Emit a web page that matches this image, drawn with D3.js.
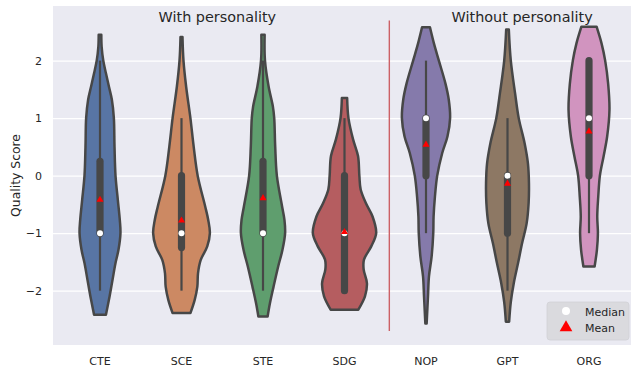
<!DOCTYPE html>
<html><head><meta charset="utf-8">
<script src="https://cdn.jsdelivr.net/npm/d3@7"></script>
<style>
body{margin:0;background:#fff}
svg{display:block}
text{font-family:"DejaVu Sans",sans-serif;fill:#262626}
</style>
</head><body><svg id="c" width="631" height="371"></svg>
<script>
// ---- data ----
const categories = ["CTE","SCE","STE","SDG","NOP","GPT","ORG"];
const colors = ["#5875a4","#cc8963","#5f9e6e","#b55d60","#857aab","#8d7864","#d194bf"];
// violin density profiles: [score, relative density]
const densCTE = [[-2.42,0.18],[-2.1,0.29],[-1.81,0.38],[-1.52,0.47],[-1.29,0.56],[-1.0,0.62],[-0.77,0.60],[-0.42,0.54],[0,0.47],[0.5,0.44],[1.0,0.42],[1.32,0.36],[1.55,0.27],[1.78,0.18],[2.0,0.10],[2.24,0.05],[2.45,0.04]];
const densSCE = [[-2.39,0.27],[-2.16,0.40],[-1.93,0.48],[-1.7,0.50],[-1.47,0.58],[-1.23,0.78],[-1.0,0.86],[-0.77,0.81],[-0.54,0.72],[0,0.49],[0.5,0.37],[1.0,0.27],[1.55,0.14],[2.0,0.06],[2.41,0.03]];
const densSTE = [[-2.45,0.14],[-2.22,0.21],[-1.93,0.32],[-1.58,0.46],[-1.29,0.59],[-1.0,0.67],[-0.77,0.65],[-0.54,0.58],[0,0.42],[0.5,0.37],[1.0,0.34],[1.2,0.30],[1.55,0.17],[2.0,0.06],[2.45,0.05]];
const densSDG = [[-2.33,0.42],[-2.1,0.62],[-1.87,0.68],[-1.63,0.58],[-1.46,0.59],[-1.23,0.81],[-1.0,0.96],[-0.71,0.85],[-0.48,0.65],[-0.24,0.49],[0,0.45],[0.34,0.41],[0.63,0.26],[1.0,0.12],[1.35,0.08]];
const densNOP = [[-2.57,0.02],[-2.1,0.06],[-1.75,0.09],[-1.41,0.17],[-1.0,0.22],[-0.71,0.23],[-0.37,0.27],[0,0.34],[0.39,0.49],[0.68,0.65],[1.0,0.73],[1.32,0.69],[1.6,0.59],[2.0,0.39],[2.3,0.24],[2.58,0.12]];
const densGPT = [[-2.54,0.05],[-2.2,0.10],[-1.87,0.19],[-1.52,0.32],[-1.18,0.44],[-0.83,0.58],[-0.48,0.64],[-0.13,0.65],[0.21,0.62],[0.56,0.52],[1.0,0.34],[1.43,0.23],[2.0,0.10],[2.54,0.04]];
const densORG = [[-1.58,0.17],[-1.29,0.24],[-1.0,0.27],[-0.71,0.25],[-0.37,0.28],[0,0.33],[0.33,0.44],[0.68,0.55],[1.14,0.62],[1.6,0.58],[2.0,0.49],[2.3,0.38],[2.59,0.23]];
const densities = [densCTE,densSCE,densSTE,densSDG,densNOP,densGPT,densORG];
const whiskerLow  = [-2,-2,-2,-2,-1,-2,-1];
const q1          = [-1,-1.25,-1,-2,0,-1,0];
const medians     = [-1,-1,-1,-1,1,0,1];
const q3          = [0.25,0,0.25,0,1,0,2];
const whiskerHigh = [2,1,2,1,2,1,2];
const means       = [-0.42,-0.78,-0.39,-0.98,0.54,-0.14,0.77];
const yTicks = [-2,-1,0,1,2];
const groupTitles = ["With personality","Without personality"];
const groupTitlePos = [1.44,5.18];
const separatorPos = 3.55;
const separatorRange = [-2.7,2.7];
const legendLabels = ["Median","Mean"];

// ---- layout ----
const svg = d3.select("#c");
const P = {left:53,right:631,top:6,bottom:345};
const y = d3.scaleLinear().domain([-2.945,2.95]).range([P.bottom,P.top]);
const x = d3.scaleBand().domain(categories).range([59.25,629.75]).padding(0);
const cx = c => x(c) + x.bandwidth()/2;
const xi = d3.scaleLinear().domain([0,categories.length-1]).range([cx(categories[0]),cx(categories[categories.length-1])]);
const w = d3.scaleLinear().domain([0,1]).range([0,33]);
const edge = "#474747";

svg.append("rect").attr("x",P.left).attr("y",P.top).attr("width",P.right-P.left).attr("height",P.bottom-P.top).attr("fill","#eaeaf2");

// grid
const grid = svg.append("g").attr("transform",`translate(${P.left},0)`)
  .call(d3.axisLeft(y).tickValues(yTicks).tickSize(-(P.right-P.left)).tickFormat(""));
grid.select(".domain").remove();
grid.selectAll("line").attr("stroke","#ffffff").attr("stroke-width",1.2);

// y axis labels
const ya = svg.append("g").attr("transform",`translate(${P.left},0)`)
  .call(d3.axisLeft(y).tickValues(yTicks).tickSize(0).tickPadding(11).tickFormat(d3.format("d")));
ya.select(".domain").remove();
ya.selectAll("text").attr("font-size",11).attr("font-family","DejaVu Sans").attr("fill","#262626");

// x axis labels
const xa = svg.append("g").attr("transform",`translate(0,${P.bottom})`)
  .call(d3.axisBottom(x).tickSize(0).tickPadding(12));
xa.select(".domain").remove();
xa.selectAll("text").attr("font-size",11).attr("font-family","DejaVu Sans").attr("fill","#262626");

svg.append("text").attr("transform",`translate(15,${(P.top+P.bottom)/2}) rotate(-90)`)
  .attr("text-anchor","middle").attr("dominant-baseline","central").attr("font-size",12.4).text("Quality Score");

// separator
svg.append("line").attr("x1",xi(separatorPos)).attr("x2",xi(separatorPos))
  .attr("y1",y(separatorRange[0])).attr("y2",y(separatorRange[1]))
  .attr("stroke","#cc6166").attr("stroke-width",1.4);

// group titles
groupTitles.forEach((t,i)=>{
  svg.append("text").attr("x",xi(groupTitlePos[i])).attr("y",22).attr("text-anchor","middle")
    .attr("font-size",14.4).text(t);
});

// violins
categories.forEach((c,i)=>{
  const cc = cx(c);
  const area = d3.area().curve(d3.curveCatmullRom)
    .y(d=>y(d[0])).x0(d=>cc - w(d[1])).x1(d=>cc + w(d[1]));
  svg.append("path").attr("d",area(densities[i])).attr("fill",colors[i])
    .attr("stroke",edge).attr("stroke-width",2.5).attr("stroke-linejoin","round");
  // whisker
  svg.append("line").attr("x1",cc).attr("x2",cc).attr("y1",y(whiskerLow[i])).attr("y2",y(whiskerHigh[i]))
    .attr("stroke",edge).attr("stroke-width",2.2);
  // box
  svg.append("line").attr("x1",cc).attr("x2",cc).attr("y1",y(q1[i])).attr("y2",y(q3[i]))
    .attr("stroke",edge).attr("stroke-width",7.2).attr("stroke-linecap","round");
  // median
  svg.append("circle").attr("cx",cc).attr("cy",y(medians[i])).attr("r",3).attr("fill","#ffffff");
  // mean
  svg.append("path").attr("d",d3.symbol(d3.symbolTriangle,22)())
    .attr("transform",`translate(${cc},${y(means[i])})`).attr("fill","#ff0000");
});

// legend
const lg = svg.append("g");
lg.append("rect").attr("x",547).attr("y",302).attr("width",82).attr("height",38).attr("rx",3)
  .attr("fill","#dadade").attr("stroke","#d0d0d5").attr("stroke-width",0.8);
lg.append("circle").attr("cx",566).attr("cy",311).attr("r",4).attr("fill","#ffffff");
lg.append("path").attr("d",d3.symbol(d3.symbolTriangle,70)()).attr("transform","translate(566,327.5)").attr("fill","#ff0000");
legendLabels.forEach((t,i)=>{
  lg.append("text").attr("x",585).attr("y",315.5+i*16).attr("font-size",11).text(t);
});
</script></body></html>
